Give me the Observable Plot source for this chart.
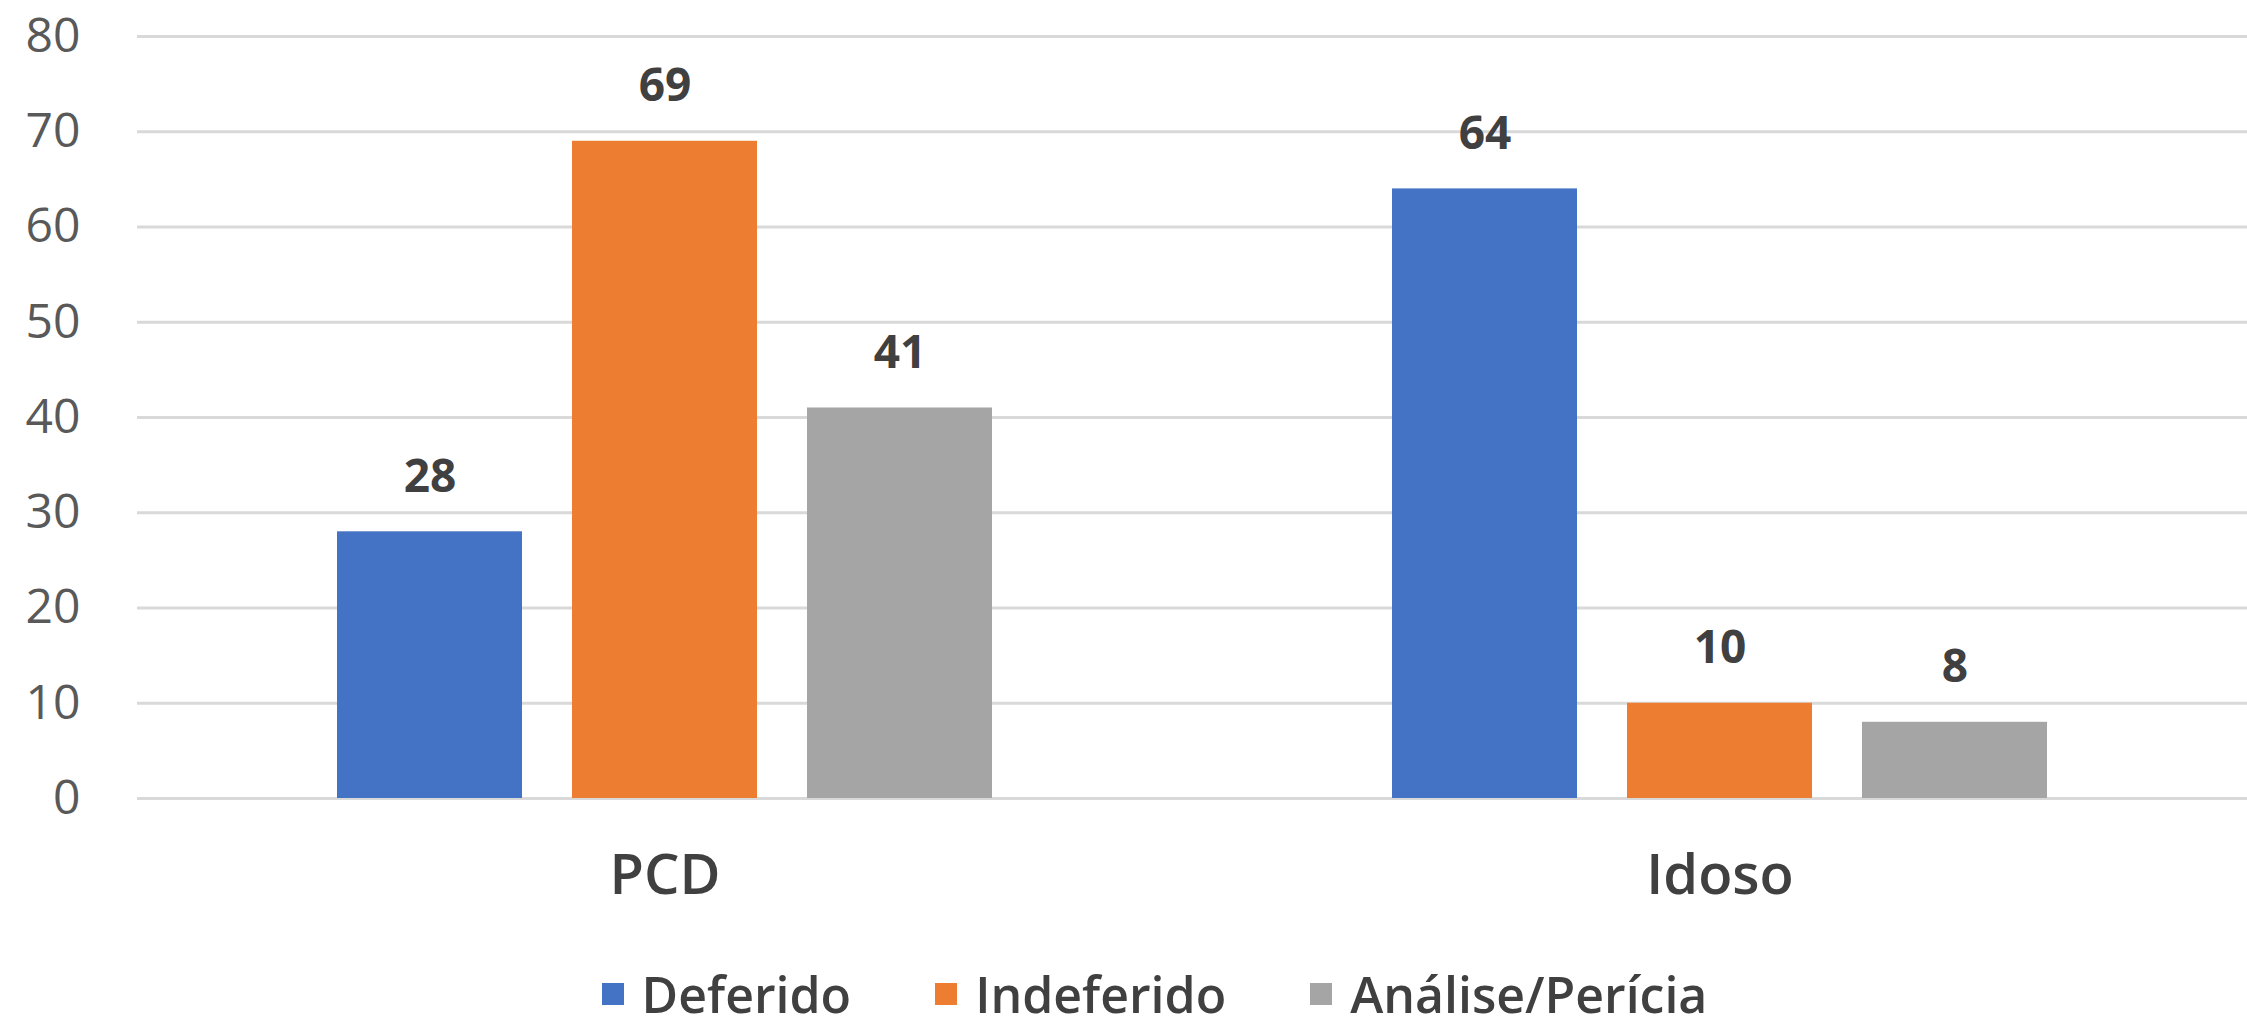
<!DOCTYPE html>
<html>
<head>
<meta charset="utf-8">
<script src="https://cdn.jsdelivr.net/npm/d3@7"></script>
<script src="https://cdn.jsdelivr.net/npm/@observablehq/plot@0.6"></script>
<style>
  html, body { margin: 0; padding: 0; background: #fff; }
  body { width: 2247px; height: 1025px; overflow: hidden; font-family: "Open Sans", sans-serif; }
  #legend { display: flex; justify-content: center; align-items: center; height: 88px; padding-left: 62px; }
  .item { display: flex; align-items: center; margin: 0 42px; }
  .sw { width: 22px; height: 22px; margin-right: 18px; }
  .lab { font-size: 50px; line-height: 1.1; font-weight: 600; color: #404040; }
</style>
</head>
<body>
<div id="chart"></div>
<div id="legend"></div>
<script>
const categories = ["PCD", "Idoso"];
const series = ["Deferido", "Indeferido", "Análise/Perícia"];
const colors = ["#4472C4", "#ED7D31", "#A5A5A5"];
const deferido = [28, 64];
const indeferido = [69, 10];
const analise = [41, 8];
const yTicks = [0, 10, 20, 30, 40, 50, 60, 70, 80];

const seriesValues = [deferido, indeferido, analise];
const data = [];
categories.forEach((c, ci) => {
  series.forEach((s, si) => {
    data.push({ category: c, series: s, value: seriesValues[si][ci] });
  });
});

const chart = Plot.plot({
  width: 2247,
  height: 950,
  marginTop: 36,
  marginBottom: 152,
  marginLeft: 136,
  marginRight: 0,
  style: { fontFamily: "Open Sans, sans-serif", background: "#fff" },
  fx: { domain: categories, padding: 0, label: null },
  x: { domain: series, paddingInner: 0.213, paddingOuter: 0.85, axis: null },
  y: { domain: [0, 80], ticks: yTicks, label: null },
  color: { domain: series, range: colors },
  marks: [
    Plot.ruleY(yTicks, { stroke: "#d9d9d9", strokeWidth: 3 }),
    Plot.axisY({ ticks: yTicks, tickSize: 0, tickPadding: 57, fontSize: 48, fill: "#595959", label: null }),
    Plot.axisFx({ anchor: "bottom", tickSize: 0, tickPadding: 56, fontSize: 56, fontWeight: 600, fill: "#404040", label: null }),
    Plot.barY(data, { fx: "category", x: "series", y: "value", fill: "series" }),
    Plot.text(data, { fx: "category", x: "series", y: "value", text: d => String(d.value), dy: -40, lineAnchor: "bottom", fontSize: 46, fontWeight: 700, fill: "#404040" })
  ]
});
document.getElementById("chart").appendChild(chart);

const legend = document.getElementById("legend");
series.forEach((s, i) => {
  const item = document.createElement("div");
  item.className = "item";
  const sw = document.createElement("div");
  sw.className = "sw";
  sw.style.background = colors[i];
  const lab = document.createElement("span");
  lab.className = "lab";
  lab.textContent = s;
  item.appendChild(sw);
  item.appendChild(lab);
  legend.appendChild(item);
});
</script>
</body>
</html>
